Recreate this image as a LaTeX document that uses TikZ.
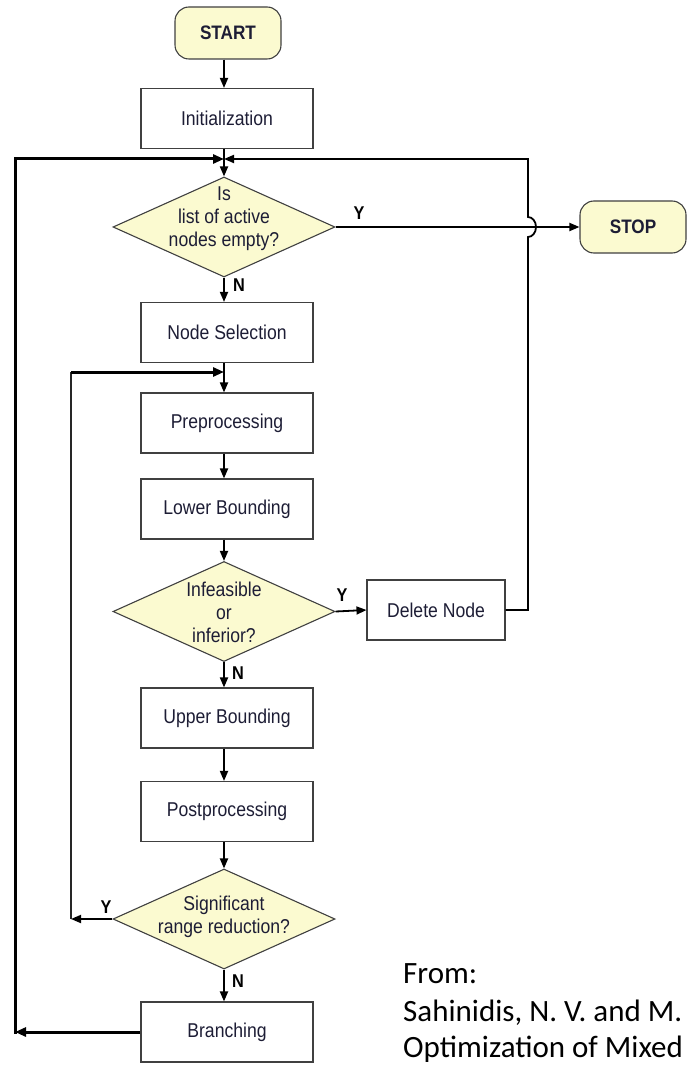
\documentclass[tikz,border=0pt]{standalone}
\usepackage{fontspec}
\setmainfont{Liberation Sans}
\newfontfamily\narrowsans[FakeStretch=0.88]{Liberation Sans}
\newfontfamily\citefont{Carlito}
\usetikzlibrary{shapes.geometric,arrows.meta}
\definecolor{termfill}{HTML}{FBFAD0}
\definecolor{txt}{HTML}{1D1D35}
\definecolor{edge}{HTML}{404040}
\tikzset{
  x=1pt, y=-1pt,
  every node/.style={text=txt},
  stepbox/.style={draw=edge, line width=1.1pt, minimum width=172pt, minimum height=60pt,
    inner sep=0pt, font=\narrowsans\fontsize{20}{23}\selectfont},
  term/.style={draw=edge, line width=1.1pt, fill=termfill, rounded corners=14pt,
    minimum width=106pt, minimum height=52pt, inner sep=0pt,
    font=\narrowsans\fontsize{19.5}{20}\selectfont\bfseries},
  dia/.style={draw=edge, line width=1.1pt, fill=termfill, diamond, inner sep=0pt,
    minimum width=222pt, minimum height=100pt},
  diatext/.style={align=center, inner sep=0pt, font=\narrowsans\fontsize{20}{23}\selectfont},
  yn/.style={inner sep=0pt, text=black, font=\narrowsans\fontsize{18.5}{20}\selectfont\bfseries},
  flow/.style={draw=black, line width=1.8pt, -{Triangle[length=10pt,width=8pt]}},
  loopline/.style={draw=black, line width=3pt, line join=miter},
  thinloop/.style={draw=black!85, line width=1.4pt},
  cite/.style={anchor=base west, inner sep=0pt, text=black, font=\citefont\fontsize{31}{37}\selectfont}
}
\begin{document}
\begin{tikzpicture}
\useasboundingbox (0,0) rectangle (687,1067);

% terminals and steps
\node[term] (start) at (228,33) {START};
\node[stepbox] (init) at (227,118.5) {Initialization};
\node[dia] (d1) at (224,227) {};
\node[diatext] (d1t) at (224,219) {Is\\list of active\\nodes empty?};
\node[term] (stop) at (633,227) {STOP};
\node[stepbox] (ns) at (227,332.5) {Node Selection};
\node[stepbox] (pre) at (227,423) {Preprocessing};
\node[stepbox] (lb) at (227,509) {Lower Bounding};
\node[dia] (d2) at (224,611.5) {};
\node[diatext] (d2t) at (224,612) {Infeasible\\or\\inferior?};
\node[stepbox, minimum width=138pt] (del) at (436,610) {Delete Node};
\node[stepbox] (ub) at (227,718) {Upper Bounding};
\node[stepbox] (post) at (227,811.5) {Postprocessing};
\node[dia] (d3) at (224,919) {};
\node[diatext] (d3t) at (224,917) {Significant\\range reduction?};
\node[stepbox] (br) at (227,1032) {Branching};

% branch labels
\node[yn] (y1) at (359,213) {Y};
\node[yn] (n1) at (239,285) {N};
\node[yn] (y2) at (342,595) {Y};
\node[yn] (n2) at (238,673) {N};
\node[yn] (y3) at (106,907) {Y};
\node[yn] (n3) at (238,981) {N};

% junction points of the loops
\coordinate (j1) at (224,159);
\coordinate (j2) at (224,372);
\coordinate (cl) at (15,1032);
\coordinate (ctl) at (15,159);
\coordinate (cr) at (528,610);
\coordinate (crt) at (528,159);
\coordinate (cj) at (528,237);
\coordinate (ci) at (71,919);
\coordinate (cit) at (71,372);

% main chain
\draw[flow] (start.south -| j1) -- (init.north -| j1);
\draw[flow] (init.south -| j1) -- (d1.north);
\draw[flow] (d1.east) -- (stop.west);
\draw[flow] (d1.south) -- (ns.north -| d1.south);
\draw[flow] (ns.south -| j2) -- (pre.north -| j2);
\draw[flow] (pre.south -| j2) -- (lb.north -| j2);
\draw[flow] (lb.south -| j2) -- (d2.north);
\draw[flow] (d2.east) -- (del.west);
\draw[flow] (d2.south) -- (ub.north -| d2.south);
\draw[flow] (ub.south -| j2) -- (post.north -| j2);
\draw[flow] (post.south -| j2) -- (d3.north);
\draw[flow] (d3.south) -- (br.north -| d3.south);

% outer loop back from Branching
\draw[loopline, -{Triangle[length=11pt,width=9pt]}] (br.west) -- (cl);
\draw[loopline, line cap=rect, -{Triangle[length=11pt,width=9pt]}] (cl) -- (ctl) -- (j1);

% loop back from Delete Node, hopping over the STOP line
\draw[flow, line join=miter] (del.east) -- (cr) -- (cj)
  arc[start angle=90, end angle=-90, x radius=8, y radius=10] -- (crt) -- (j1);

% range reduction loop
\draw[flow] (d3.west) -- (ci);
\draw[thinloop] (ci) -- (cit);
\draw[loopline, -{Triangle[length=11pt,width=9pt]}] (cit) -- (j2);

% source note
\node[cite] (c1) at (403,983) {From:};
\node[cite] (c2) at (403,1021) {Sahinidis, N. V. and M.};
\node[cite] (c3) at (403,1057) {Optimization of Mixed};
\end{tikzpicture}
\end{document}
